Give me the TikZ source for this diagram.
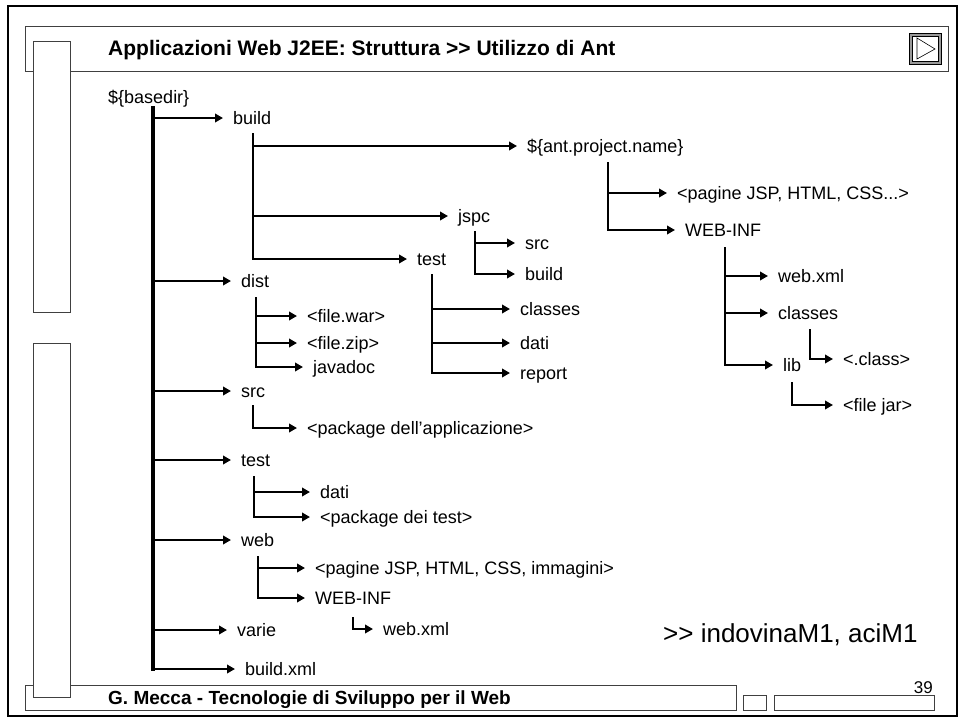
\documentclass[tikz,border=0pt]{standalone}
\usepackage{fontspec}
\setmainfont{Liberation Sans}
\usetikzlibrary{arrows.meta}
\newcommand{\ggsym}{>\kern0pt>}
\begin{document}
\begin{tikzpicture}[x=1pt,y=-1pt,
  frame/.style={line width=2.5pt},
  box/.style={line width=1pt, draw=black!75},
  trunk/.style={line width=3.6pt, line cap=rect},
  vline/.style={line width=2.8pt, line cap=rect},
  branch/.style={line width=2.6pt, -{Triangle[length=8pt,width=8.5pt]}},
  lbl/.style={anchor=west, inner xsep=10pt, inner ysep=0pt, text height=13pt, text depth=0pt, font=\fontsize{18}{20}\selectfont},
  ttl/.style={anchor=base west, inner sep=0pt, font=\bfseries\fontsize{21}{24}\selectfont},
  foot/.style={anchor=base west, inner sep=0pt, font=\bfseries\fontsize{19}{22}\selectfont}
]
\useasboundingbox (0,0) rectangle (959,720);
% frame and slide decorations
\draw[frame] (8,6) rectangle (957,716);
\draw[box] (25,26) rectangle (948,71);
\draw[box, fill=white] (33,41) rectangle (70,312);
\draw[box] (25,685) rectangle (736,710);
\draw[box, fill=white] (33,343) rectangle (70,697);
\draw[box] (743,695) rectangle (766,710);
\draw[box] (774,695) rectangle (934,710);
% play button
\draw[fill=black!40, line width=0.8pt] (909,33) rectangle (941,64);
\draw[fill=white, line width=0.6pt] (912,36) rectangle (938,61);
\draw[line width=0.6pt] (917,38) -- (917,59) -- (935,49) -- cycle;
% title and footer
\node[ttl] (title) at (108,55) {Applicazioni Web J2EE: Struttura \ggsym{} Utilizzo di Ant};
\node[foot] (footer) at (108,704) {G. Mecca - Tecnologie di Sviluppo per il Web};
\node[anchor=base east, inner sep=0pt, font=\fontsize{17}{20}\selectfont] (page) at (933,693) {39};
\node[anchor=base west, inner sep=0pt, font=\fontsize{26}{28}\selectfont] (ind) at (663,642) {\ggsym{} indovinaM1, aciM1};
% root
\node[lbl, inner xsep=0pt] (basedir) at (108,97) {\$\{basedir\}};
\coordinate (r) at (153,108);
\node[lbl] (build) at (223,118) {build};
\node[lbl] (dist) at (231,281) {dist};
\node[lbl] (src) at (231,391) {src};
\node[lbl] (test) at (231,460) {test};
\node[lbl] (web) at (231,540) {web};
\node[lbl] (varie) at (227,630) {varie};
\node[lbl] (bxml) at (235,669) {build.xml};
\draw[trunk] (r) -- (r |- bxml.west);
\foreach \n in {build,dist,src,test,web,varie,bxml} \draw[branch] (r |- \n.west) -- (\n.west);
% build
\coordinate (b) at (253,134);
\node[lbl] (apn) at (517,146) {\$\{ant.project.name\}};
\node[lbl] (jspc) at (448,216) {jspc};
\node[lbl] (btest) at (407,259) {test};
\draw[vline] (b) -- (b |- btest.west);
\foreach \n in {apn,jspc,btest} \draw[branch] (b |- \n.west) -- (\n.west);
% ant.project.name
\coordinate (a) at (608,163);
\node[lbl] (pag1) at (667,193) {<pagine JSP, HTML, CSS...>};
\node[lbl] (winf1) at (675,230) {WEB-INF};
\draw[vline] (a) -- (a |- winf1.west);
\foreach \n in {pag1,winf1} \draw[branch] (a |- \n.west) -- (\n.west);
% WEB-INF (build)
\coordinate (w) at (725,248);
\node[lbl] (wx1) at (768,276) {web.xml};
\node[lbl] (cls1) at (768,313) {classes};
\node[lbl] (lib) at (773,365) {lib};
\draw[vline] (w) -- (w |- lib.west);
\foreach \n in {wx1,cls1,lib} \draw[branch] (w |- \n.west) -- (\n.west);
\coordinate (c) at (810,330);
\node[lbl] (dotcls) at (833,359) {<.class>};
\draw[vline] (c) -- (c |- dotcls.west);
\draw[branch] (c |- dotcls.west) -- (dotcls.west);
\coordinate (l) at (792,383);
\node[lbl] (jar) at (833,405) {<file jar>};
\draw[vline] (l) -- (l |- jar.west);
\draw[branch] (l |- jar.west) -- (jar.west);
% jspc
\coordinate (j) at (475,232);
\node[lbl] (jsrc) at (515,243) {src};
\node[lbl] (jbuild) at (515,274) {build};
\draw[vline] (j) -- (j |- jbuild.west);
\foreach \n in {jsrc,jbuild} \draw[branch] (j |- \n.west) -- (\n.west);
% test (build)
\coordinate (t) at (432,275);
\node[lbl] (tcls) at (510,309) {classes};
\node[lbl] (tdati) at (510,343) {dati};
\node[lbl] (trep) at (510,373) {report};
\draw[vline] (t) -- (t |- trep.west);
\foreach \n in {tcls,tdati,trep} \draw[branch] (t |- \n.west) -- (\n.west);
% dist
\coordinate (d) at (256,298);
\node[lbl] (war) at (297,316) {<file.war>};
\node[lbl] (zip) at (297,343) {<file.zip>};
\node[lbl] (jdoc) at (303,367) {javadoc};
\draw[vline] (d) -- (d |- jdoc.west);
\foreach \n in {war,zip,jdoc} \draw[branch] (d |- \n.west) -- (\n.west);
% src
\coordinate (s) at (253,406);
\node[lbl] (pkg) at (297,428) {<package dell’applicazione>};
\draw[vline] (s) -- (s |- pkg.west);
\draw[branch] (s |- pkg.west) -- (pkg.west);
% test
\coordinate (te) at (254,477);
\node[lbl] (sdati) at (310,492) {dati};
\node[lbl] (pkgt) at (310,517) {<package dei test>};
\draw[vline] (te) -- (te |- pkgt.west);
\foreach \n in {sdati,pkgt} \draw[branch] (te |- \n.west) -- (\n.west);
% web
\coordinate (we) at (258,557);
\node[lbl] (pag2) at (305,568) {<pagine JSP, HTML, CSS, immagini>};
\node[lbl] (winf2) at (305,598) {WEB-INF};
\draw[vline] (we) -- (we |- winf2.west);
\foreach \n in {pag2,winf2} \draw[branch] (we |- \n.west) -- (\n.west);
\coordinate (w2) at (353,618);
\node[lbl] (wx2) at (373,629) {web.xml};
\draw[vline] (w2) -- (w2 |- wx2.west);
\draw[branch] (w2 |- wx2.west) -- (wx2.west);
\end{tikzpicture}
\end{document}
